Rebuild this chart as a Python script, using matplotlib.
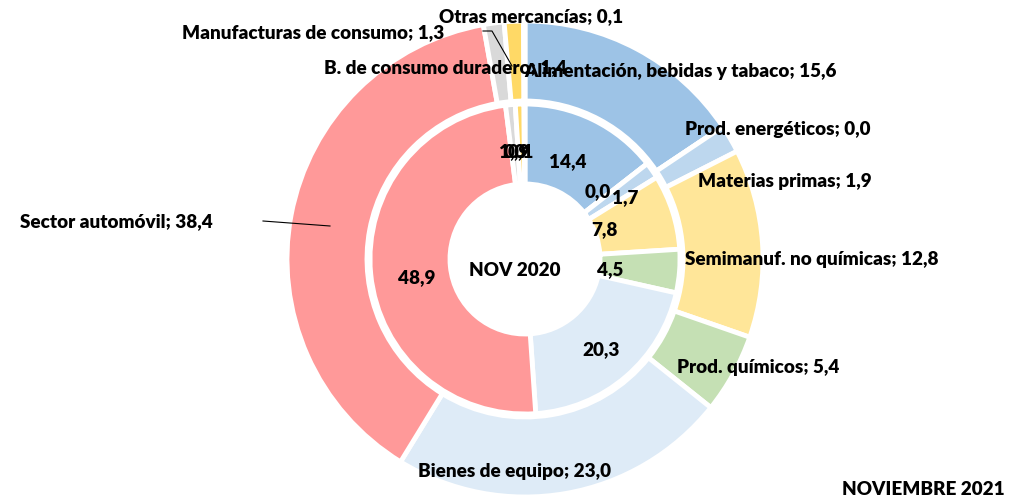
import matplotlib
matplotlib.use('Agg')
import matplotlib.pyplot as plt

categories = ["Alimentación, bebidas y tabaco", "Prod. energéticos", "Materias primas",
              "Semimanuf. no químicas", "Prod. químicos", "Bienes de equipo",
              "Sector automóvil", "B. de consumo duradero", "Manufacturas de consumo",
              "Otras mercancías"]
nov_2021 = [15.6, 0.0, 1.9, 12.8, 5.4, 23.0, 38.4, 1.4, 1.3, 0.1]
nov_2020 = [14.4, 0.0, 1.7, 7.8, 4.5, 20.3, 48.9, 1.0, 0.9, 0.1]
colors = ["#9DC3E6", "#BDD7EE", "#BDD7EE", "#FFE699", "#C5E0B4", "#DEEBF7",
          "#FF9999", "#D9D9D9", "#FFD966", "#FFC000"]

# label positions in pixels (x, y from top)
outer_pos = [(680, 72), (778, 130), (785, 182), (812, 260), (758, 367),
             (514, 472), (116, 222), (445, 68), (313, 33), (531, 17)]
inner_pos = [(568, 162), (598, 192), (625, 198), (604, 230), (610, 270),
             (601, 350), (417, 278), (512, 152), (517, 152), (521, 152)]

W, H = 1011, 502
cx, cy = 525, H - 260

def fmt(v):
    return f"{v:.1f}".replace(".", ",")

plt.rcParams['font.family'] = ['Lato', 'DejaVu Sans']
fig = plt.figure(figsize=(W / 100, H / 100), dpi=100)
ax = fig.add_axes([0, 0, 1, 1])

wp = dict(width=80, edgecolor='white', linewidth=3.5)
ax.pie(nov_2021, colors=colors, radius=238, center=(cx, cy), startangle=90,
       counterclock=False, wedgeprops=wp, frame=True)
ax.pie(nov_2020, colors=colors, radius=155, center=(cx, cy), startangle=90,
       counterclock=False, wedgeprops=wp, frame=True)
ax.set_xlim(0, W)
ax.set_ylim(0, H)
ax.set_aspect('equal')
ax.axis('off')

fs = 13.6
fw = 'heavy'
for cat, v, (x, y) in zip(categories, nov_2021, outer_pos):
    ax.text(x, H - y, f"{cat}; {fmt(v)}", ha='center', va='center',
            fontsize=fs, fontweight=fw, color='black')
for v, (x, y) in zip(nov_2020, inner_pos):
    ax.text(x, H - y, fmt(v), ha='center', va='center',
            fontsize=fs, fontweight=fw, color='black')

# leader lines
ax.plot([263, 330], [H - 222, H - 227], color='black', lw=0.8)
ax.plot([483, 492, 512], [H - 32, H - 32, H - 67], color='black', lw=0.8)

ax.text(515, H - 270, "NOV 2020", ha='center', va='center', fontsize=fs,
        fontweight=fw)
ax.text(1005, H - 490, "NOVIEMBRE 2021", ha='right', va='center', fontsize=fs,
        fontweight=fw)

fig.savefig("out.png", dpi=100)
